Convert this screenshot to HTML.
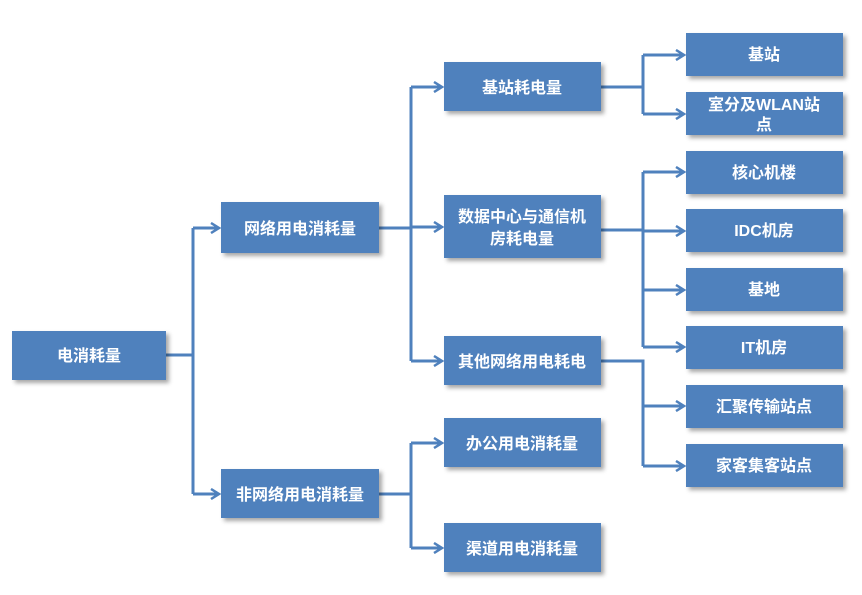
<!DOCTYPE html>
<html><head><meta charset="utf-8"><style>
html,body{margin:0;padding:0;background:#fff;}
svg{display:block;}
text{font-family:"Liberation Sans","Noto Sans CJK SC",sans-serif;font-weight:bold;font-size:16px;fill:#fff;text-anchor:middle;}
</style></head><body>
<svg width="862" height="595" xmlns="http://www.w3.org/2000/svg">
<defs>
<filter id="sh" x="-10%" y="-10%" width="130%" height="140%"><feDropShadow dx="3" dy="3" stdDeviation="2" flood-color="#000" flood-opacity="0.35"/></filter>
<marker id="ar" markerWidth="12" markerHeight="12" refX="10" refY="6" orient="auto" markerUnits="userSpaceOnUse"><path d="M2,1 L10,6 L2,11" fill="none" stroke="#4f81bd" stroke-width="2.5"/></marker>
</defs>
<g stroke="#4f81bd" stroke-width="3" fill="none">
<path d="M166,355 H193"/>
<path d="M193,228 V494"/>
<path d="M193,228 H219" marker-end="url(#ar)"/>
<path d="M193,494 H219" marker-end="url(#ar)"/>
<path d="M379,228 H411"/>
<path d="M411,87 V361"/>
<path d="M411,87 H442" marker-end="url(#ar)"/>
<path d="M411,227 H442" marker-end="url(#ar)"/>
<path d="M411,361 H442" marker-end="url(#ar)"/>
<path d="M379,494 H411"/>
<path d="M411,443 V548"/>
<path d="M411,443 H442" marker-end="url(#ar)"/>
<path d="M411,548 H442" marker-end="url(#ar)"/>
<path d="M601,87 H643"/>
<path d="M643,55 V114"/>
<path d="M643,55 H684" marker-end="url(#ar)"/>
<path d="M643,114 H684" marker-end="url(#ar)"/>
<path d="M601,230 H643"/>
<path d="M643,172 V347"/>
<path d="M643,172 H684" marker-end="url(#ar)"/>
<path d="M643,231 H684" marker-end="url(#ar)"/>
<path d="M643,290 H684" marker-end="url(#ar)"/>
<path d="M643,347 H684" marker-end="url(#ar)"/>
<path d="M601,361 H643 V466"/>
<path d="M643,406 H684" marker-end="url(#ar)"/>
<path d="M643,466 H684" marker-end="url(#ar)"/>
</g>
<g fill="#4f81bd" filter="url(#sh)">
<rect x="12" y="331" width="154" height="49"/>
<rect x="221" y="202" width="158" height="51"/>
<rect x="221" y="469" width="158" height="49"/>
<rect x="444" y="62" width="157" height="49"/>
<rect x="444" y="195" width="157" height="63"/>
<rect x="444" y="336" width="157" height="49"/>
<rect x="444" y="418" width="157" height="49"/>
<rect x="444" y="523" width="157" height="49"/>
<rect x="686" y="33" width="157" height="43"/>
<rect x="686" y="92" width="157" height="43"/>
<rect x="686" y="151" width="157" height="43"/>
<rect x="686" y="209" width="157" height="43"/>
<rect x="686" y="268" width="157" height="43"/>
<rect x="686" y="326" width="157" height="43"/>
<rect x="686" y="385" width="157" height="43"/>
<rect x="686" y="444" width="157" height="43"/>
</g>
<text x="89" y="361">电消耗量</text>
<text x="300" y="234">网络用电消耗量</text>
<text x="300" y="500">非网络用电消耗量</text>
<text x="522" y="93">基站耗电量</text>
<text x="522" y="222">数据中心与通信机</text>
<text x="522" y="244">房耗电量</text>
<text x="522" y="367">其他网络用电耗电</text>
<text x="522" y="449">办公用电消耗量</text>
<text x="522" y="554">渠道用电消耗量</text>
<text x="764" y="60">基站</text>
<text x="764" y="110">室分及WLAN站</text>
<text x="764" y="130">点</text>
<text x="764" y="178">核心机楼</text>
<text x="764" y="236">IDC机房</text>
<text x="764" y="295">基地</text>
<text x="764" y="353">IT机房</text>
<text x="764" y="412">汇聚传输站点</text>
<text x="764" y="471">家客集客站点</text>
</g>
</svg>
</body></html>
